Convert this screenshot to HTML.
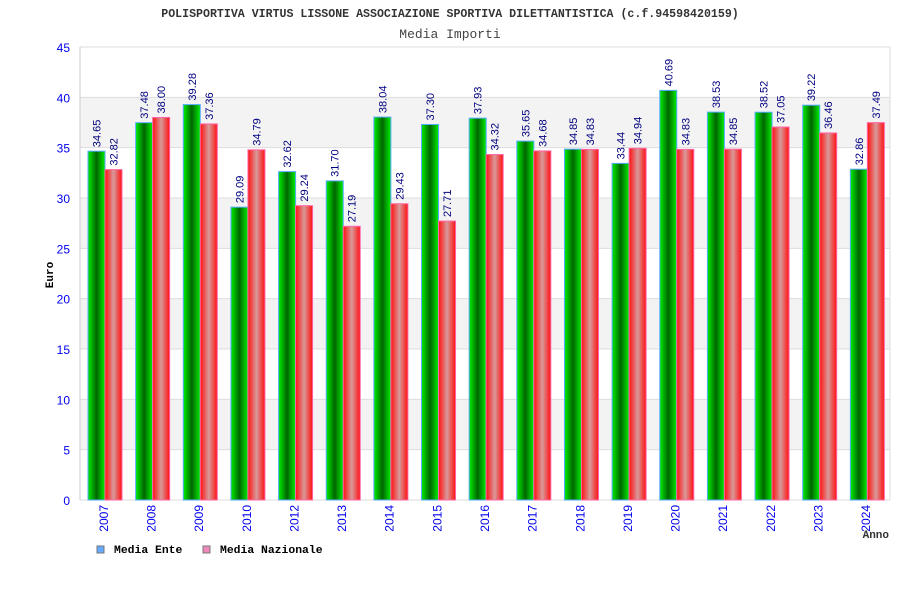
<!DOCTYPE html>
<html><head><meta charset="utf-8"><style>
body{margin:0;background:#fff;width:900px;height:600px;overflow:hidden}
svg{display:block}
</style></head><body>
<svg id="chart" width="900" height="600" xmlns="http://www.w3.org/2000/svg">
<defs>
<linearGradient id="gG" x1="0" x2="1" y1="0" y2="0">
<stop offset="0" stop-color="#00ee00"/><stop offset="0.5" stop-color="#006600"/><stop offset="1" stop-color="#00ee00"/></linearGradient>
<linearGradient id="gR" x1="0" x2="1" y1="0" y2="0">
<stop offset="0" stop-color="#ff1010"/><stop offset="0.5" stop-color="#d89a9a"/><stop offset="1" stop-color="#ff1010"/></linearGradient>
</defs>
<text x="450" y="17" text-anchor="middle" font-family="Liberation Mono, monospace" font-size="11.6" font-weight="bold" fill="#333">POLISPORTIVA VIRTUS LISSONE ASSOCIAZIONE SPORTIVA DILETTANTISTICA (c.f.94598420159)</text>
<text x="450" y="38" text-anchor="middle" font-family="Liberation Mono, monospace" font-size="13" fill="#444">Media Importi</text>
<text transform="translate(53,275) rotate(-90)" text-anchor="middle" font-family="Liberation Mono, monospace" font-size="11" font-weight="bold" fill="#000">Euro</text>
<text x="889" y="538" text-anchor="end" font-family="Liberation Mono, monospace" font-size="11" font-weight="bold" fill="#333">Anno</text>
<g id="grid"></g><g id="bars"></g><g id="labels"></g>
<g>
<rect x="97" y="546" width="7" height="7" fill="#66aaff" stroke="#777"/>
<text x="114" y="553" font-family="Liberation Mono, monospace" font-size="11.4" font-weight="bold">Media Ente</text>
<rect x="203" y="546" width="7" height="7" fill="#ee88bb" stroke="#777"/>
<text x="220" y="553" font-family="Liberation Mono, monospace" font-size="11.4" font-weight="bold">Media Nazionale</text>
</g>
</svg>
<script>
const years=["2007","2008","2009","2010","2012","2013","2014","2015","2016","2017","2018","2019","2020","2021","2022","2023","2024"];
const ente=[34.65,37.48,39.28,29.09,32.62,31.70,38.04,37.30,37.93,35.65,34.85,33.44,40.69,38.53,38.52,39.22,32.86];
const nazionale=[32.82,38.00,37.36,34.79,29.24,27.19,29.43,27.71,34.32,34.68,34.83,34.94,34.83,34.85,37.05,36.46,37.49];
const yTicks=[0,5,10,15,20,25,30,35,40,45];
const NS="http://www.w3.org/2000/svg";
const L=80,R=890,T=47,B=500,MAX=45;
const y=v=>B-(v/MAX)*(B-T);
const gw=(R-L)/years.length;
const x=i=>L+i*gw;
function mk(tag,attrs,parent){const e=document.createElementNS(NS,tag);for(const k in attrs)e.setAttribute(k,attrs[k]);parent.appendChild(e);return e;}
const grid=document.getElementById('grid'),bars=document.getElementById('bars'),labels=document.getElementById('labels');
for(let k=0;k<yTicks.length-1;k++){
  if(k%2===1){const r=mk('rect',{x:L,y:y(yTicks[k+1]),width:R-L,height:y(yTicks[k])-y(yTicks[k+1]),fill:'#f3f3f3'},grid);
  
  }
}
yTicks.forEach(t=>{
  const l=mk('line',{x1:L,x2:R,y1:y(t),y2:y(t),stroke:'#ddd'},grid);
  
  
  const tx=mk('text',{x:70,y:y(t)+5,'text-anchor':'end','font-family':'Liberation Sans, sans-serif','font-size':'12',fill:'#0000ee'},grid);
  tx.textContent=t;
  
  
});
const ax=mk('line',{x1:L,x2:L,y1:T,y2:B,stroke:'#ccc'},grid);


const ax2=mk('line',{x1:R,x2:R,y1:T,y2:B,stroke:'#ddd'},grid);


const bw=17;
years.forEach((yr,i)=>{
  const x0=x(i)+8;
  const g=mk('rect',{x:x0,y:y(ente[i]),width:bw,height:B-y(ente[i]),fill:'url(#gG)',stroke:'#55aaff','stroke-width':1},bars);
  
  
  const r=mk('rect',{x:x0+bw,y:y(nazionale[i]),width:bw,height:B-y(nazionale[i]),fill:'url(#gR)',stroke:'#ff66aa','stroke-width':1},bars);
  
  
  [[ente[i],x0+bw/2],[nazionale[i],x0+bw*1.5]].forEach(([v,cx],j)=>{
    const t=mk('text',{transform:`translate(${cx+4},${y(v)-4}) rotate(-90)`,'font-family':'Liberation Sans, sans-serif','font-size':'11',fill:'#000080'},labels);
    t.textContent=v.toFixed(2);
    
    
  });
  const yl=mk('text',{transform:`translate(${x(i)+gw/2+4},505) rotate(-90)`,'text-anchor':'end','font-family':'Liberation Sans, sans-serif','font-size':'12',fill:'#0000ee'},labels);
  yl.textContent=yr;
  
  
});
</script>
</body></html>
